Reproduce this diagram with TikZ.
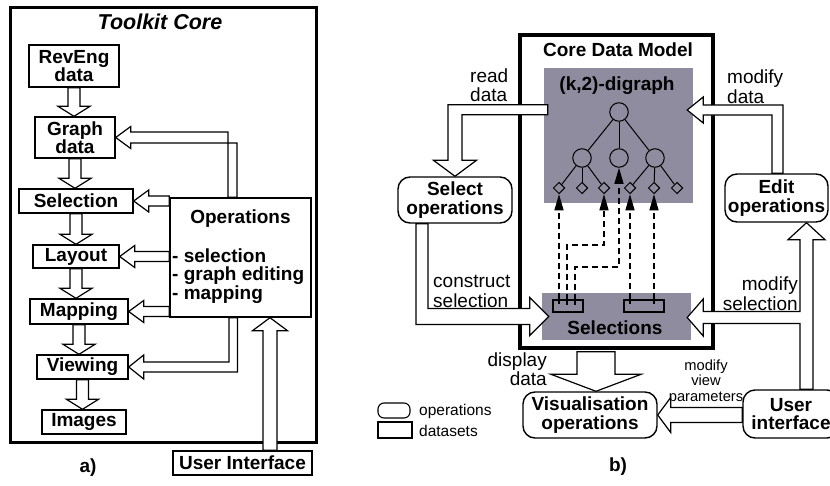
\documentclass[tikz,border=0pt]{standalone}
\usepackage{fontspec}
\setmainfont{Liberation Sans}
\usetikzlibrary{arrows.meta, calc, shapes.geometric}

\definecolor{panelgray}{RGB}{142,140,158}

\tikzset{
  boxlbl/.style={font=\bfseries\fontsize{19}{18.5}\selectfont},
  plainlbl/.style={font=\fontsize{19}{19.5}\selectfont, inner sep=0pt},
  databox/.style={draw, line width=1.4pt, fill=white, align=center, inner sep=0pt, boxlbl},
  opbox/.style={draw, line width=1.4pt, fill=white, rounded corners=12pt, align=center, inner sep=0pt, boxlbl},
  coreframe/.style={draw, line width=3pt, inner sep=0pt},
  grayarea/.style={fill=panelgray, inner sep=0pt},
  blockarrow/.style={draw, fill=white, line width=1.2pt, line join=miter},
  treenode/.style={circle, draw, line width=1pt, minimum size=18.5pt, inner sep=0pt},
  leafnode/.style={diamond, draw, line width=1pt, minimum size=11.5pt, inner sep=0pt},
  refline/.style={line width=1.2pt, dash pattern=on 6pt off 4pt, -{Triangle[length=16pt, width=9pt]}},
  legendlbl/.style={font=\fontsize{15.5}{16}\selectfont, inner sep=0pt, anchor=west},
}

% hollow arrow pointing down from #1 into #2
\newcommand{\blockdown}[2]{%
  \draw[blockarrow] (#1.south |- #2.north) -- ++(-16,-10) -- ++(10,0) -- ($(#1.south)+(-6,0)$) -- ++(12,0)
    -- ($(#1.south |- #2.north)+(6,-10)$) -- ++(10,0) -- cycle;}
% hollow arrow pointing left from #2 into #1
\newcommand{\blockleft}[2]{%
  \draw[blockarrow] (#1.east) -- ++(15,-11) -- ++(0,6) -- ($(#1.east -| #2.west)+(0,-5)$) -- ++(0,10)
    -- ($(#1.east)+(15,5)$) -- ++(0,6) -- cycle;}

\begin{document}
\begin{tikzpicture}[x=1pt, y=-1pt]
\useasboundingbox (0,0) rectangle (830,485);

% a) toolkit core
\node[coreframe, minimum width=306pt, minimum height=435pt] (tk) at (163,224.5) {};
\node[font=\bfseries\itshape\fontsize{21.5}{22}\selectfont] (tktitle) at (160,22) {Toolkit Core};

\node[databox, minimum width=90pt, minimum height=42pt] (rev) at (74,66) {RevEng\\data};
\node[databox, minimum width=80pt, minimum height=41pt] (graph) at (75,137.5) {Graph\\data};
\node[databox, minimum width=114pt, minimum height=24pt] (sel) at (76,201) {Selection};
\node[databox, minimum width=86pt, minimum height=23pt] (lay) at (76,256.5) {Layout};
\node[databox, minimum width=98pt, minimum height=25pt] (map) at (79,311.5) {Mapping};
\node[databox, minimum width=91pt, minimum height=24pt] (view) at (82.5,367) {Viewing};
\node[databox, minimum width=84pt, minimum height=24pt] (img) at (84,422) {Images};

\node[databox, minimum width=141pt, minimum height=119pt] (ops) at (240.5,257.5) {};
\node[boxlbl] (opsname) at (240.5,219) {Operations};
\node[boxlbl, anchor=north west, align=left, inner sep=0pt] (opslist) at (172,248.5) {- selection\\- graph editing\\- mapping};

\node[databox, minimum width=139pt, minimum height=24pt] (ui) at (242.5,463) {User Interface};
\node[boxlbl] (lbla) at (88,468) {a)};

\blockdown{rev}{graph}
\blockdown{graph}{sel}
\blockdown{sel}{lay}
\blockdown{lay}{map}
\blockdown{map}{view}
\blockdown{view}{img}

\blockleft{sel}{ops}
\blockleft{lay}{ops}
\blockleft{map}{ops}
\draw[blockarrow] (graph.east) -- ++(15,-11) -- ++(0,5.5) -| ($(ops.north)+(-12.5,0)$) -- ++(9,0)
  |- ($(graph.east)+(15,5.5)$) -- ++(0,5.5) -- cycle;
\draw[blockarrow] (view.east) -- ++(15,-12) -- ++(0,7) -| ($(ops.south)+(-11.5,0)$) -- ++(8.5,0)
  |- ($(view.east)+(15,5)$) -- ++(0,7) -- cycle;

\coordinate (uia) at ($(ui.north)+(27.5,0)$);
\draw[blockarrow] (uia |- ops.south) -- ++(17.5,13) -- ++(-10.5,0) -- ($(uia)+(7,0)$) -- ++(-14,0)
  -- ($(uia |- ops.south)+(-7,13)$) -- ++(-10.5,0) -- cycle;

% b) core data model
\node[coreframe, line width=3.8pt, minimum width=193pt, minimum height=313pt] (core) at (616.5,191.5) {};
\node[boxlbl] (coretitle) at (618,50) {Core Data Model};
\node[grayarea, minimum width=149pt, minimum height=135pt] (dg) at (618.5,135.5) {};
\node[boxlbl] (dgname) at (617,86) {(k,2)-digraph};

\node[treenode] (root) at (619,112) {};
\node[treenode] (m1) at (582,158) {};
\node[treenode] (m2) at (619,158) {};
\node[treenode] (m3) at (655,158) {};
\foreach \name/\x in {l1/559, l2/582, l3/604, l4/630, l5/654, l6/677}
  \node[leafnode] (\name) at (\x,188) {};
\foreach \a/\b in {root/m1, root/m2, root/m3, m1/l1, m1/l2, m1/l3, m3/l4, m3/l5, m3/l6}
  \draw[line width=1pt] (\a) -- (\b);

\node[grayarea, minimum width=149pt, minimum height=47pt] (selns) at (616.5,316.5) {};
\node[boxlbl] (selname) at (615,328) {Selections};
\node[draw, line width=1.2pt, minimum width=30pt, minimum height=12pt, inner sep=0pt] (sa) at (568,306) {};
\node[draw, line width=1.2pt, minimum width=40pt, minimum height=12pt, inner sep=0pt] (sb) at (644,306) {};

\coordinate (t1) at (l1 |- sa.north);
\coordinate (t2) at (567,300);
\coordinate (t3) at (575,300);
\coordinate (t4) at (l4 |- sb.north);
\coordinate (t5) at (l5 |- sb.north);
\foreach \t in {t1,t2,t3,t4,t5}
  \draw[line width=1.2pt] (\t) -- ++(0,5);

\draw[refline] (t1) -- (l1.south);
\draw[refline] (t2) -- ++(0,-55) -| (l3.south);
\draw[refline] (t3) -- ++(0,-33) -| (m2.south);
\draw[refline] (t4) -- (l4.south);
\draw[refline] (t5) -- (l5.south);

\node[opbox, minimum width=114pt, minimum height=46pt] (selop) at (455,200) {Select\\operations};
\node[opbox, minimum width=103pt, minimum height=48pt] (editop) at (776.5,198) {Edit\\operations};
\node[opbox, minimum width=134pt, minimum height=46pt] (visop) at (590,415) {Visualisation\\operations};
\node[opbox, minimum width=96pt, minimum height=48pt] (uiop) at (791,414) {User\\interface};

\node[plainlbl, align=left, anchor=west] (readlbl) at (470,85) {read\\data};
\node[plainlbl, align=left, anchor=west] (moddlbl) at (727,86.5) {modify\\data};
\node[plainlbl, align=left, anchor=west] (conslbl) at (433,291.5) {construct\\selection};
\node[plainlbl, align=right, anchor=east] (modslbl) at (798,293.5) {modify\\selection};
\node[plainlbl, align=right, anchor=east] (displbl) at (547,369) {display\\data};
\node[font=\fontsize{14.7}{15.5}\selectfont, align=center, inner sep=0pt] (viewlbl) at (706,382) {modify\\view\\parameters};

% read data
\draw[blockarrow] (selop.north) -- ++(-21.5,-16) -- ++(14.5,0) |- ($(dg.north west)+(4,37)$) -- ++(0,10)
  -| ($(selop.north)+(7,-16)$) -- ++(14.5,0) -- cycle;
% construct selection
\draw[blockarrow] ($(selns.west)+(7,0)$) -- ++(-19,-19) -- ++(0,11) -| ($(selop.south)+(-27,0)$) -- ++(-12,0)
  |- ($(selns.west)+(-12,8)$) -- ++(0,11) -- cycle;
% modify data
\draw[blockarrow] ($(dg.east)+(-6,-25.5)$) -- ++(16,-13) -- ++(0,8) -| ($(editop.north)+(6.5,0)$) -- ++(-11,0)
  |- ($(dg.east)+(10,-20.5)$) -- ++(0,8) -- cycle;
% modify selection
\coordinate (ms) at ($(uiop.north)+(9,0)$);
\draw[blockarrow] ($(selns.east)+(-4,1)$) -- ++(16,-18.5) -- ++(0,12.5) -| ($(editop.south -| ms)+(0,17)$)
  -- ++(-12,0) -- ++(18.5,-17) -- ++(18.5,17) -- ++(-12,0) -- ($(ms)+(13,0)$) -- (ms)
  |- ($(selns.east)+(12,7)$) -- ++(0,12.5) -- cycle;
% display data
\coordinate (coreb) at ($(core.south)+(0,1.9)$);
\coordinate (dd) at ($(visop.north)+(6,0)$);
\coordinate (ddl) at ($(dd)+(-19,0)$);
\coordinate (ddr) at ($(dd)+(19,0)$);
\draw[blockarrow] (dd) -- ++(-45,-17) -- ++(26,0) -- (ddl |- coreb) -- (ddr |- coreb) -- ($(ddr)+(0,-17)$)
  -- ++(26,0) -- cycle;
% modify view parameters
\draw[blockarrow] (visop.east) -- ++(13,-17.5) -- ++(0,10) -- ($(visop.east -| uiop.west)+(0,-7.5)$) -- ++(0,15)
  -- ($(visop.east)+(13,7.5)$) -- ++(0,10) -- cycle;

% legend
\node[draw, line width=1.1pt, rounded corners=6pt, minimum width=32pt, minimum height=15pt, inner sep=0pt] (legop) at (394,410.5) {};
\node[draw, line width=1.1pt, minimum width=34pt, minimum height=16pt, inner sep=0pt] (legds) at (395,430) {};
\node[legendlbl] (legoptext) at (419,411) {operations};
\node[legendlbl] (legdstext) at (419,431) {datasets};

\node[boxlbl] (lblb) at (618,467) {b)};
\end{tikzpicture}
\end{document}
